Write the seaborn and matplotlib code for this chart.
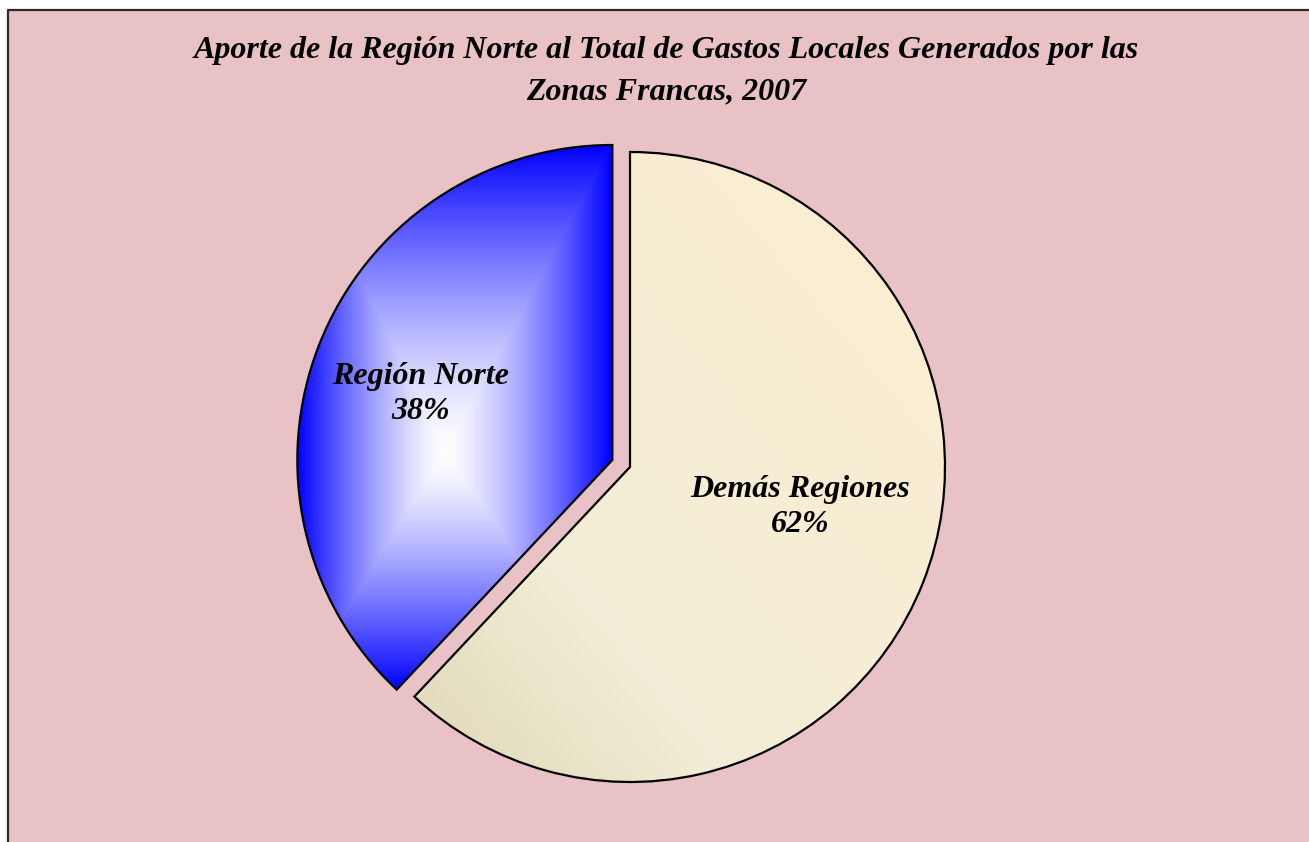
import numpy as np
import seaborn as sns
import matplotlib.pyplot as plt
from matplotlib.patches import Rectangle
from matplotlib.lines import Line2D

sns.set_theme(style="white")
plt.rcParams["font.family"] = ["Liberation Serif", "DejaVu Serif"]

# data
regions = ["Región Norte", "Demás Regiones"]
shares = [38, 62]
pct_labels = ["38%", "62%"]
title = "Aporte de la Región Norte al Total de Gastos Locales Generados por las\nZonas Francas, 2007"

W, H = 1309, 842
fig = plt.figure(figsize=(W / 100, H / 100), dpi=100, facecolor="white")
ax = fig.add_axes([0, 0, 1, 1])

# pink background panel + frame (left and top only visible)
ax.add_patch(Rectangle((8, 0), W - 8, H - 10, facecolor="#e9c2c5", edgecolor="none", zorder=0))
ax.add_line(Line2D([8, 8, W], [0, H - 10, H - 10], color="#2a2a2a", lw=1.6, zorder=5))

center = (630, H - 467)
radius = 315
wedges, _ = ax.pie(shares, startangle=90, counterclock=True, explode=[19, 0],
                   center=center, radius=radius, frame=True,
                   wedgeprops=dict(facecolor="none", edgecolor="black", linewidth=1.6))
for w in wedges:
    w.set_zorder(3)

# blue wedge: rectangular "from centre" gradient white -> blue
bb = wedges[0].get_path().get_extents()
xs = np.linspace(bb.x0, bb.x1, 300)
ys = np.linspace(bb.y0, bb.y1, 500)
X, Y = np.meshgrid(xs, ys)
cx, cy = (bb.x0 + bb.x1) / 2 - 10, (bb.y0 + bb.y1) / 2 - 35
tx = np.where(X < cx, (cx - X) / (cx - bb.x0), (X - cx) / (bb.x1 - cx))
ty = np.where(Y < cy, (cy - Y) / (cy - bb.y0), (Y - cy) / (bb.y1 - cy))
t = np.clip(np.maximum(tx, ty), 0, 1) ** 1.35
white = np.array([1.0, 1.0, 1.0])
blue = np.array([0.0, 0.0, 1.0])
img = white[None, None, :] * (1 - t[..., None]) + blue[None, None, :] * t[..., None]
im = ax.imshow(img, extent=(bb.x0, bb.x1, bb.y0, bb.y1), origin="lower", zorder=2, aspect="auto")
im.set_clip_path(wedges[0])

# cream wedge: diagonal linear gradient
bb = wedges[1].get_path().get_extents()
xs = np.linspace(bb.x0, bb.x1, 400)
ys = np.linspace(bb.y0, bb.y1, 400)
X, Y = np.meshgrid(xs, ys)
s = ((X - bb.x0) / bb.width + (Y - bb.y0) / bb.height) / 2
stops = [0.0, 0.3, 1.0]
cols = np.array([[0.87, 0.84, 0.71], [0.95, 0.93, 0.84], [0.99, 0.93, 0.82]])
img2 = np.stack([np.interp(s, stops, cols[:, k]) for k in range(3)], axis=-1)
im2 = ax.imshow(img2, extent=(bb.x0, bb.x1, bb.y0, bb.y1), origin="lower", zorder=2, aspect="auto")
im2.set_clip_path(wedges[1])

ax.set_xlim(0, W)
ax.set_ylim(0, H)
ax.set_aspect("equal")
ax.axis("off")

font = dict(fontweight="bold", fontstyle="italic", color="black", ha="center", va="center")
ax.text(666, H - 71, title, fontsize=23, linespacing=1.55, zorder=6, **font)
ax.text(421, H - 394, regions[0] + "\n" + pct_labels[0], fontsize=23, linespacing=1.25, zorder=6, **font)
ax.text(800, H - 507, regions[1] + "\n" + pct_labels[1], fontsize=23, linespacing=1.25, zorder=6, **font)

fig.savefig("out.png", dpi=100, facecolor="white")
